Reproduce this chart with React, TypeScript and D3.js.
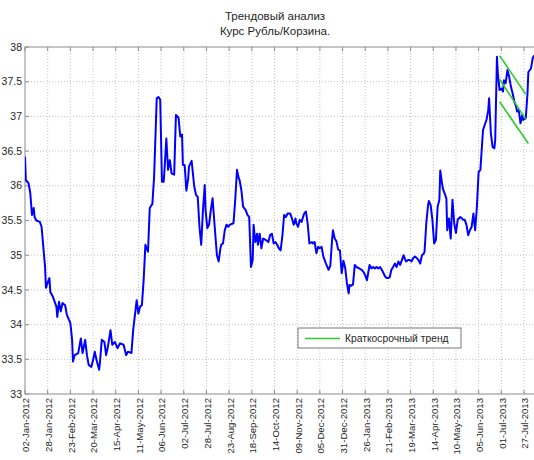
import React, { useEffect, useRef } from 'react';
import * as d3 from 'd3';

// days since 02-Jan-2012 and the rate
const startDate = new Date(Date.UTC(2012, 0, 2));
const endTickDate = new Date(Date.UTC(2013, 6, 27));

const days = [
  0, 1, 4, 6, 8, 10, 11, 13, 17, 19, 23, 24, 27, 28, 29, 32, 36, 37, 39, 41, 43, 46, 48, 52, 54, 55, 57, 61,
  64, 66, 69, 71, 73, 76, 78, 80, 82, 85, 86, 88, 91, 93, 95, 98, 100, 103, 106, 109, 113, 116, 118, 122,
  124, 128, 130, 132, 134, 136, 138, 141, 143, 146, 148, 151, 153, 155, 157, 159, 160, 162, 164, 166, 168,
  171, 173, 176, 178, 180, 181, 183, 185, 187, 188, 191, 194, 196, 198, 200, 202, 204, 206, 207, 209, 211,
  213, 215, 218, 220, 222, 224, 225, 227, 229, 231, 233, 235, 239, 241, 243, 245, 246, 248, 250, 253, 255,
  257, 259, 261, 262, 264, 266, 267, 269, 271, 273, 276, 279, 281, 283, 285, 287, 289, 291, 293, 295, 297,
  299, 301, 304, 306, 308, 310, 311, 313, 315, 317, 320, 322, 324, 326, 329, 330, 332, 334, 336, 338, 340,
  342, 345, 348, 350, 352, 353, 355, 357, 359, 361, 363, 365, 367, 369, 371, 372, 374, 376, 378, 380, 383,
  386, 388, 390, 392, 394, 395, 397, 399, 401, 403, 405, 407, 409, 411, 413, 415, 416, 418, 420, 422, 424,
  426, 428, 430, 432, 434, 436, 437, 439, 441, 443, 445, 447, 449, 451, 453, 455, 457, 458, 460, 462, 463,
  465, 467, 469, 471, 473, 475, 476, 478, 479, 481, 483, 484, 486, 488, 490, 492, 494, 496, 499, 501, 502,
  504, 506, 508, 510, 512, 514, 516, 518, 520, 522, 523, 525, 527, 529, 531, 532, 534, 536, 538, 539, 541,
  542, 544, 546, 548, 549, 551, 553, 555, 557, 559, 561, 563, 564, 566, 568, 570, 571, 574, 576, 577, 580,
  582, 584,
];

const rates = [
  36.42, 36.08, 36.04, 35.9, 35.58, 35.68, 35.55, 35.5, 35.48, 35.41, 34.83, 34.53, 34.64, 34.67, 34.47,
  34.4, 34.26, 34.11, 34.33, 34.19, 34.31, 34.28, 34.14, 34.02, 33.78, 33.47, 33.56, 33.59, 33.8, 33.59,
  33.78, 33.56, 33.42, 33.39, 33.49, 33.61, 33.49, 33.35, 33.47, 33.78, 33.75, 33.56, 33.68, 33.92, 33.71,
  33.75, 33.66, 33.73, 33.71, 33.56, 33.61, 33.59, 33.92, 34.35, 34.16, 34.26, 34.28, 34.64, 35.15, 35.05,
  35.68, 35.74, 36.13, 37.26, 37.28, 37.24, 36.06, 36.06, 36.25, 36.68, 36.23, 36.37, 36.18, 36.16, 37.02,
  36.98, 36.71, 36.74, 36.3, 36.3, 35.93, 36.1, 36.28, 36.36, 35.99, 35.87, 35.84, 35.41, 35.15, 35.65,
  36.01, 35.65, 35.39, 35.44, 35.65, 35.82, 35.32, 35.0, 34.91, 35.1, 35.15, 35.17, 35.36, 35.44, 35.41,
  35.44, 35.46, 35.8, 36.23, 36.11, 36.08, 35.94, 35.7, 35.65, 35.58, 35.55, 34.83, 34.93, 35.44, 35.19,
  35.31, 35.15, 35.31, 35.1, 35.24, 35.22, 35.19, 35.29, 35.31, 35.17, 35.19, 35.15, 35.1, 35.07, 35.27,
  35.58, 35.55, 35.6, 35.6, 35.53, 35.44, 35.53, 35.46, 35.41, 35.51, 35.48, 35.6, 35.63, 35.46, 35.17,
  35.19, 35.17, 35.19, 35.03, 35.12, 35.1, 35.12, 34.98, 34.88, 34.79, 34.85, 35.22, 35.36, 35.24, 35.2,
  35.08, 35.07, 34.74, 34.92, 34.82, 34.6, 34.45, 34.57, 34.56, 34.58, 34.86, 34.83, 34.81, 34.79, 34.76,
  34.71, 34.64, 34.79, 34.86, 34.81, 34.83, 34.81, 34.83, 34.81, 34.83, 34.79, 34.74, 34.69, 34.67, 34.67,
  34.68, 34.79, 34.83, 34.88, 34.83, 34.91, 34.86, 34.93, 35.0, 34.93, 34.91, 34.93, 34.93, 34.91, 34.96,
  34.98, 34.96, 34.93, 34.88, 35.0, 35.02, 35.05, 35.46, 35.72, 35.78, 35.72, 35.51, 35.17, 35.22, 35.7,
  35.8, 36.22, 36.04, 35.96, 35.89, 35.82, 35.36, 35.53, 35.24, 35.8, 35.46, 35.32, 35.51, 35.55, 35.53,
  35.51, 35.51, 35.44, 35.29, 35.36, 35.41, 35.6, 35.36, 35.7, 36.2, 36.23, 36.42, 36.8, 36.88, 36.95,
  37.09, 37.26, 36.76, 36.56, 36.54, 36.66, 37.86, 37.62, 37.38, 37.4, 37.36, 37.52, 37.48, 37.67, 37.57,
  37.43, 37.33, 37.21, 37.14, 37.07, 37.09, 36.9, 37.02, 36.95, 36.97, 37.33, 37.64, 37.69, 37.84, 37.88,
];

// short-term trend channel: three parallel lines
const trendStartDays = [544, 544, 544];
const trendEndDays = [574, 574, 577];
const trendStartRates = [37.875, 37.535, 37.21];
const trendEndRates = [37.32, 36.96, 36.61];

const yTicks = [33, 33.5, 34, 34.5, 35, 35.5, 36, 36.5, 37, 37.5, 38];
const xTickStep = 26;
const titleLines = ['Трендовый анализ', 'Курс Рубль/Корзина.'];
const legendLabel = 'Краткосрочный тренд';

const App = () => {
  const svgRef = useRef<SVGSVGElement>(null);

  useEffect(() => {
    const width = 534;
    const height = 460;
    const left = 25;
    const top = 47;
    const bottom = 394;
    const font = '"Liberation Sans", Arial, sans-serif';

    const svg = d3.select(svgRef.current).attr('width', width).attr('height', height);
    svg.selectAll('*').remove();

    const xScale = d3.scaleUtc().domain([startDate, endTickDate]).range([left, 524]);
    const yScale = d3.scaleLinear().domain([33, 38]).range([bottom, top]);
    const toDate = (d: number) => d3.utcDay.offset(startDate, d);
    const right = xScale(toDate(600));

    const xTicks = d3.range(0, 23).map(i => toDate(i * xTickStep));
    const fmt = d3.utcFormat('%d-%b-%Y');

    svg.append('rect').attr('width', width).attr('height', height).attr('fill', '#fff');

    // grid
    const grid = svg.append('g').attr('stroke', '#c4c4c4').attr('stroke-dasharray', '1,2').attr('stroke-width', 1);
    xTicks.slice(1).forEach(t => {
      grid.append('line').attr('x1', xScale(t)).attr('x2', xScale(t)).attr('y1', top).attr('y2', bottom);
    });
    yTicks.slice(1, -1).forEach(v => {
      grid.append('line').attr('x1', left).attr('x2', right).attr('y1', yScale(v)).attr('y2', yScale(v));
    });

    // box + inward ticks
    const axisColor = '#8c8c8c';
    svg.append('rect')
      .attr('x', left).attr('y', top).attr('width', right - left).attr('height', bottom - top)
      .attr('fill', 'none').attr('stroke', axisColor).attr('stroke-width', 1);
    const ticks = svg.append('g').attr('stroke', axisColor).attr('stroke-width', 1);
    xTicks.forEach(t => {
      const x = xScale(t);
      ticks.append('line').attr('x1', x).attr('x2', x).attr('y1', bottom).attr('y2', bottom - 4);
      ticks.append('line').attr('x1', x).attr('x2', x).attr('y1', top).attr('y2', top + 4);
    });
    yTicks.forEach(v => {
      ticks.append('line').attr('x1', left).attr('x2', left + 4).attr('y1', yScale(v)).attr('y2', yScale(v));
    });

    // y labels
    svg.append('g').selectAll('text').data(yTicks).enter().append('text')
      .attr('x', left - 3).attr('y', d => yScale(d)).attr('dy', '0.35em')
      .attr('text-anchor', 'end').attr('font-family', font).attr('font-size', 10.5).attr('fill', '#262626')
      .text(d => d3.format('')(d));

    // x labels, rotated
    svg.append('g').selectAll('text').data(xTicks).enter().append('text')
      .attr('transform', d => `translate(${xScale(d) + 1},${bottom + 4}) rotate(-90)`)
      .attr('dy', '0.35em')
      .attr('text-anchor', 'end').attr('font-family', font).attr('font-size', 9.6).attr('fill', '#262626')
      .text(d => fmt(d));

    // title
    svg.append('g').selectAll('text').data(titleLines).enter().append('text')
      .attr('x', 275).attr('y', (d, i) => 20 + i * 15)
      .attr('text-anchor', 'middle').attr('font-family', font).attr('font-size', 11.5).attr('fill', '#262626')
      .text(d => d);

    svg.append('clipPath').attr('id', 'plot-clip').append('rect')
      .attr('x', left).attr('y', top - 2).attr('width', right - left).attr('height', bottom - top + 4);

    const line = d3.line<number>()
      .x((d, i) => xScale(toDate(days[i])))
      .y(d => yScale(d));

    svg.append('path')
      .datum(rates)
      .attr('clip-path', 'url(#plot-clip)')
      .attr('d', line)
      .attr('fill', 'none').attr('stroke', '#0000ff').attr('stroke-width', 2)
      .attr('stroke-linejoin', 'round');

    const green = '#2ccc2c';
    trendStartDays.forEach((s, i) => {
      svg.append('line')
        .attr('x1', xScale(toDate(s))).attr('y1', yScale(trendStartRates[i]))
        .attr('x2', xScale(toDate(trendEndDays[i]))).attr('y2', yScale(trendEndRates[i]))
        .attr('stroke', green).attr('stroke-width', 1.6);
    });

    // legend
    const lg = svg.append('g').attr('transform', 'translate(298,328)');
    lg.append('rect').attr('width', 163).attr('height', 20).attr('fill', '#fff').attr('stroke', '#777').attr('stroke-width', 1);
    lg.append('line').attr('x1', 7).attr('x2', 42).attr('y1', 10.5).attr('y2', 10.5).attr('stroke', green).attr('stroke-width', 1.6);
    lg.append('text').attr('x', 47).attr('y', 10.5).attr('dy', '0.35em')
      .attr('font-family', font).attr('font-size', 10.3).attr('fill', '#262626').text(legendLabel);
  }, []);

  return <svg ref={svgRef} style={{ position: 'absolute', left: 0, top: 0 }}></svg>;
};

export default App;
